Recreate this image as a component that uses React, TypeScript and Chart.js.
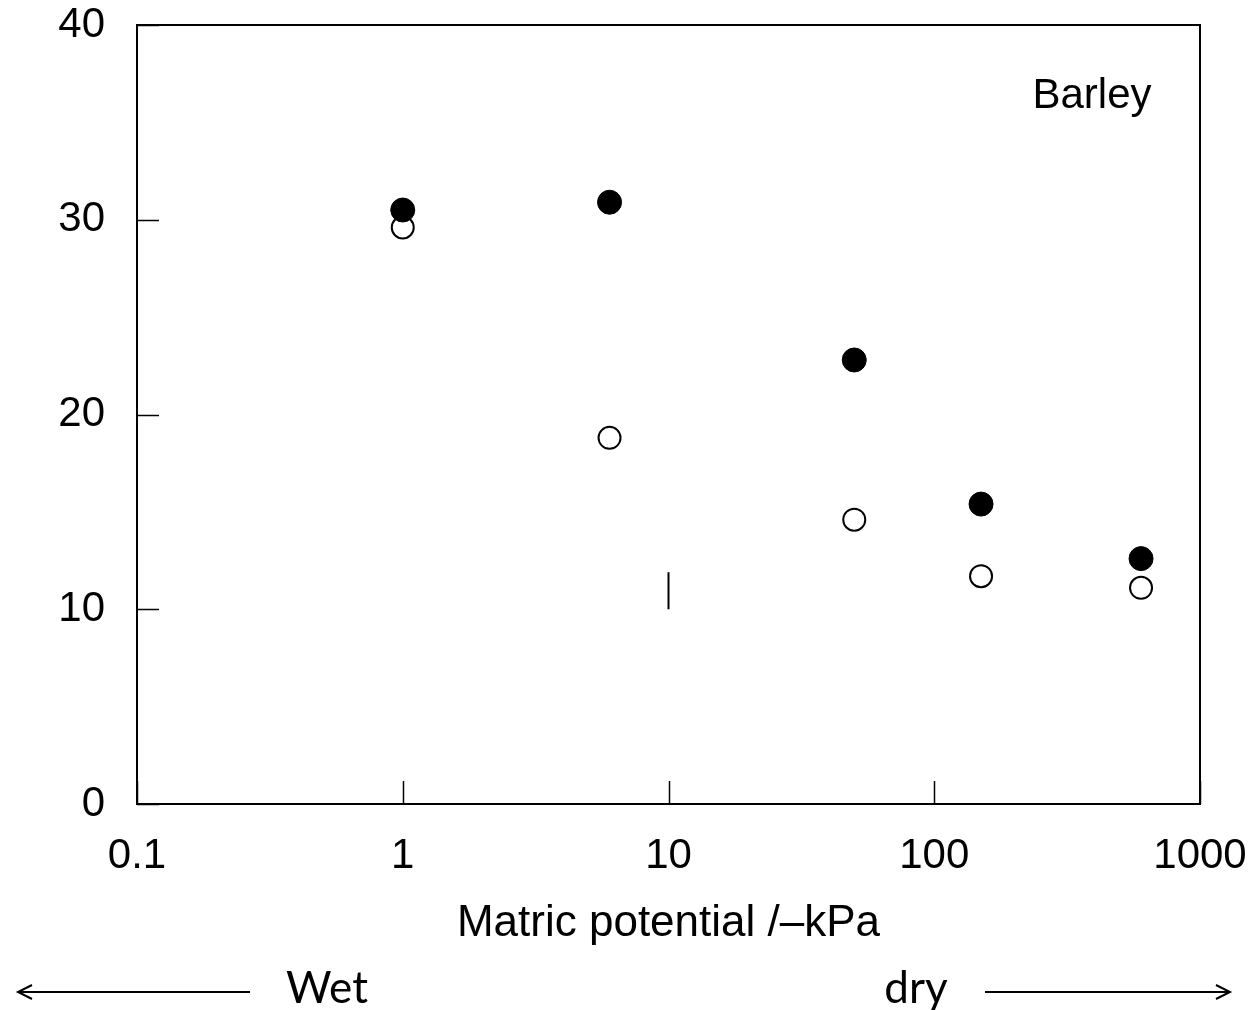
import React, { useEffect, useRef } from "react";
import { Chart, registerables } from "chart.js";

Chart.register(...registerables);

// ---- data ----
const potentials = [1, 6, 50, 150, 600];
const filledValues = [30.5, 30.9, 22.8, 15.4, 12.6];
const openValues = [29.6, 18.8, 14.6, 11.7, 11.1];
const strayMarkX = [10, 10];
const strayMarkY = [10, 11.9];
const xTickValues = [0.1, 1, 10, 100, 1000];
const xTickLabels = ["0.1", "1", "10", "100", "1000"];
const yTickValues = [0, 10, 20, 30, 40];
const xAxisTitle = "Matric potential /\u2013kPa";
const panelLabel = "Barley";
const wetLabel = "Wet";
const dryLabel = "dry";

const FONT = "'Liberation Sans', Arial, sans-serif";

const framePlugin = {
  id: "frameAndTicks",
  afterDraw(chart: any) {
    const { ctx, chartArea } = chart;
    const { left, right, top, bottom } = chartArea;
    ctx.save();
    ctx.strokeStyle = "#000";
    ctx.lineWidth = 2;
    ctx.strokeRect(left, top, right - left, bottom - top);
    // inward ticks
    ctx.lineWidth = 1.5;
    const xs = chart.scales.x;
    xs.ticks.forEach((t: any) => {
      const px = Math.round(xs.getPixelForValue(t.value)) + 0.5;
      ctx.beginPath();
      ctx.moveTo(px, bottom);
      ctx.lineTo(px, bottom - 23);
      ctx.stroke();
    });
    const ys = chart.scales.y;
    ys.ticks.forEach((t: any) => {
      const py = Math.round(ys.getPixelForValue(t.value)) + 0.5;
      ctx.beginPath();
      ctx.moveTo(left, py);
      ctx.lineTo(left + 22, py);
      ctx.stroke();
    });
    // panel label
    ctx.fillStyle = "#000";
    ctx.font = `42px ${FONT}`;
    ctx.textAlign = "center";
    ctx.textBaseline = "alphabetic";
    ctx.fillText(panelLabel, 1092, 108);
    // wet / dry
    ctx.font = `44px Lato, 'Open Sans', sans-serif`;
    ctx.fillText(wetLabel, 327, 1003);
    ctx.fillText(dryLabel, 916, 1003);
    // arrows
    ctx.lineWidth = 2;
    const arrowY = 992;
    ctx.beginPath();
    ctx.moveTo(250, arrowY);
    ctx.lineTo(20, arrowY);
    ctx.stroke();
    ctx.beginPath();
    ctx.moveTo(32, arrowY - 7);
    ctx.lineTo(18, arrowY);
    ctx.lineTo(32, arrowY + 7);
    ctx.stroke();
    ctx.beginPath();
    ctx.moveTo(985, arrowY);
    ctx.lineTo(1228, arrowY);
    ctx.stroke();
    ctx.beginPath();
    ctx.moveTo(1216, arrowY - 7);
    ctx.lineTo(1230, arrowY);
    ctx.lineTo(1216, arrowY + 7);
    ctx.stroke();
    ctx.restore();
  },
};

export default function App() {
  const ref = useRef<HTMLCanvasElement | null>(null);
  useEffect(() => {
    if (!ref.current) return;
    const chart = new Chart(ref.current, {
      type: "scatter",
      data: {
        datasets: [
          {
            label: "filled",
            data: potentials.map((x, i) => ({ x, y: filledValues[i] })),
            pointRadius: 12,
            pointBackgroundColor: "#000",
            pointBorderColor: "#000",
            pointBorderWidth: 1,
          },
          {
            type: "line",
            label: "mark",
            data: strayMarkX.map((x, i) => ({ x, y: strayMarkY[i] })),
            borderColor: "#000",
            borderWidth: 2,
            pointRadius: 0,
            showLine: true,
            fill: false,
          } as any,
          {
            label: "open",
            data: potentials.map((x, i) => ({ x, y: openValues[i] })),
            pointRadius: 11,
            pointBackgroundColor: "#fff",
            pointBorderColor: "#000",
            pointBorderWidth: 2,
          },
        ],
      },
      options: {
        responsive: false,
        animation: false,
        layout: { padding: { left: 0, right: 56, top: 25, bottom: 60 } },
        plugins: {
          legend: { display: false },
          tooltip: { enabled: false },
        },
        scales: {
          x: {
            type: "logarithmic",
            min: 0.1,
            max: 1000,
            afterBuildTicks: (scale: any) => {
              scale.ticks = xTickValues.map((v) => ({ value: v }));
            },
            afterFit: (scale: any) => {
              scale.height = 146;
              scale.paddingLeft = 0;
              scale.paddingRight = 0;
            },
            grid: { display: false },
            border: { display: false },
            ticks: {
              autoSkip: false,
              maxRotation: 0,
              padding: 19,
              color: "#000",
              font: { family: FONT, size: 42 },
              callback: (value: any) => {
                const i = xTickValues.findIndex((v) => Math.abs(v - Number(value)) < 1e-9);
                return i >= 0 ? xTickLabels[i] : "";
              },
            },
            title: {
              display: true,
              text: xAxisTitle,
              color: "#000",
              font: { family: FONT, size: 44 },
              padding: { top: 0, bottom: 0 },
            },
          },
          y: {
            min: 0,
            max: 40,
            afterBuildTicks: (scale: any) => {
              scale.ticks = yTickValues.map((v) => ({ value: v }));
            },
            afterFit: (scale: any) => {
              scale.width = 137;
              scale.paddingTop = 0;
              scale.paddingBottom = 0;
            },
            grid: { display: false },
            border: { display: false },
            ticks: {
              padding: 24,
              color: "#000",
              font: { family: FONT, size: 42 },
            },
          },
        },
      },
      plugins: [framePlugin],
    } as any);
    return () => chart.destroy();
  }, []);
  return (
    <div style={{ position: "absolute", left: 0, top: 0, width: 1256, height: 1010, background: "#fff" }}>
      <canvas ref={ref} width={1256} height={1010} />
    </div>
  );
}
